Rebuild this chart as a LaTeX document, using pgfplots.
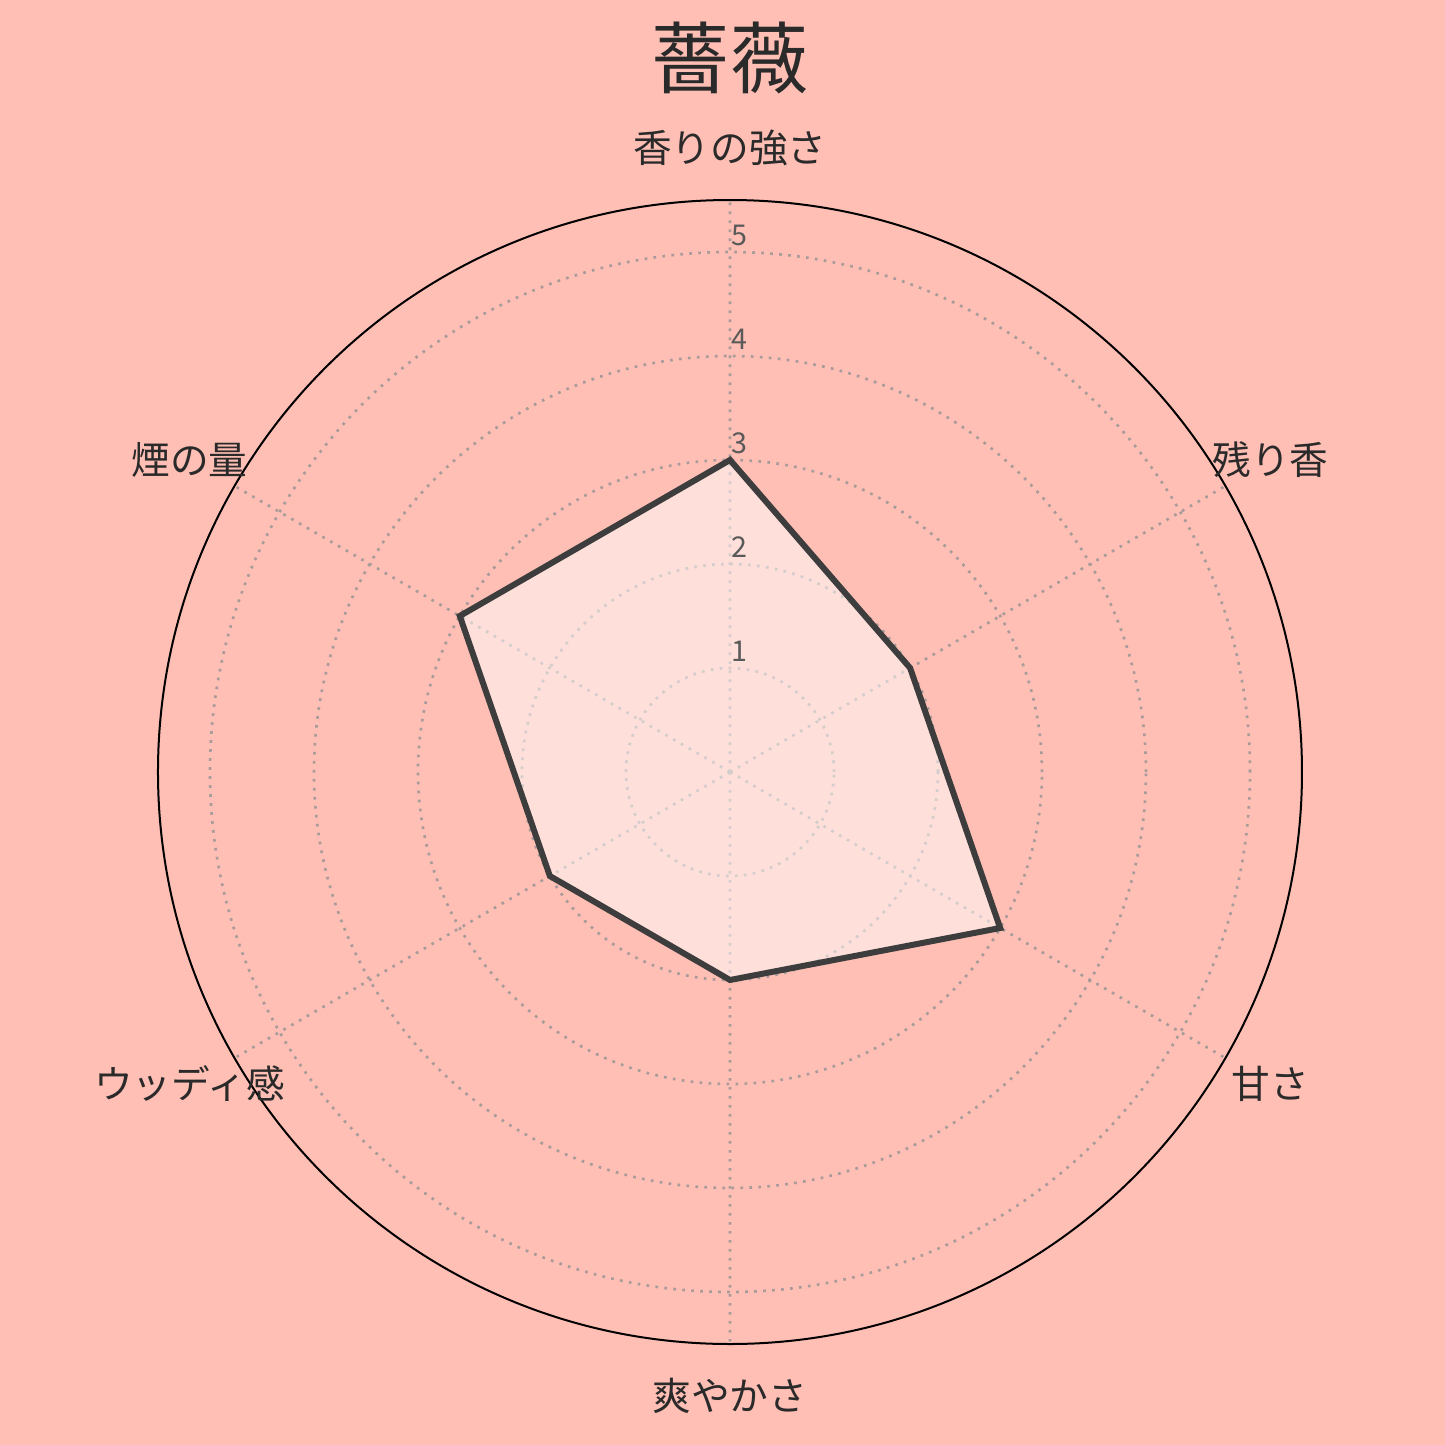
\documentclass[border=0pt]{standalone}
\usepackage{pgfplots}
\pgfplotsset{compat=1.18}
\usepgfplotslibrary{polar}
\usepackage{fontspec}
\setmainfont{Noto Sans CJK JP}
\definecolor{bgcol}{HTML}{FFBFB5}
\definecolor{linecol}{HTML}{3D3D3D}
\definecolor{gridcol}{HTML}{A89B99}
\definecolor{tickcol}{HTML}{5A5A5A}
\definecolor{textcol}{HTML}{2A2A2A}
\begin{document}
\begin{tikzpicture}
\fill[bgcol] (-219pt,-201.9pt) rectangle (214.5pt,231.6pt);
\node[text=textcol, font=\fontsize{23.4}{24}\selectfont] at (0,214.2pt) {薔薇};
\begin{polaraxis}[
  at={(0,0)}, anchor=center,
  width=343.2pt, height=343.2pt, scale only axis,
  clip=false,
  ymin=0, ymax=5.5,
  xtick={30,90,150,210,270,330},
  ytick={1,2,3,4,5},
  xticklabels={}, yticklabels={},
  major tick length=0pt,
  grid=major,
  major grid style={gridcol, line width=0.8pt, dash pattern=on 0.8pt off 1.9pt},
  separate axis lines,
  x axis line style={black, line width=0.6pt},
  y axis line style={draw=none},
]
\addplot[draw=linecol, line width=1.8pt, fill=white, fill opacity=0.5, line join=miter]
  coordinates {(90,3) (30,2) (330,3) (270,2) (210,2) (150,3)} -- cycle;
\foreach \a/\t in {90/香りの強さ,30/残り香,330/甘さ,270/爽やかさ,210/ウッディ感,150/煙の量}{
  \edef\tmp{\noexpand\node[text=textcol, font=\noexpand\fontsize{11.6}{12}\noexpand\selectfont] at (axis cs:\a,6.0) {\t};}
  \tmp
}
\foreach \k in {1,2,3,4,5}{
  \edef\tmp{\noexpand\node[text=tickcol, anchor=base, xshift=2.7pt, yshift=2.1pt, inner sep=0pt, font=\noexpand\fontsize{8.6}{9}\noexpand\selectfont] at (axis cs:90,\k) {\k};}
  \tmp
}
\end{polaraxis}
\end{tikzpicture}
\end{document}
